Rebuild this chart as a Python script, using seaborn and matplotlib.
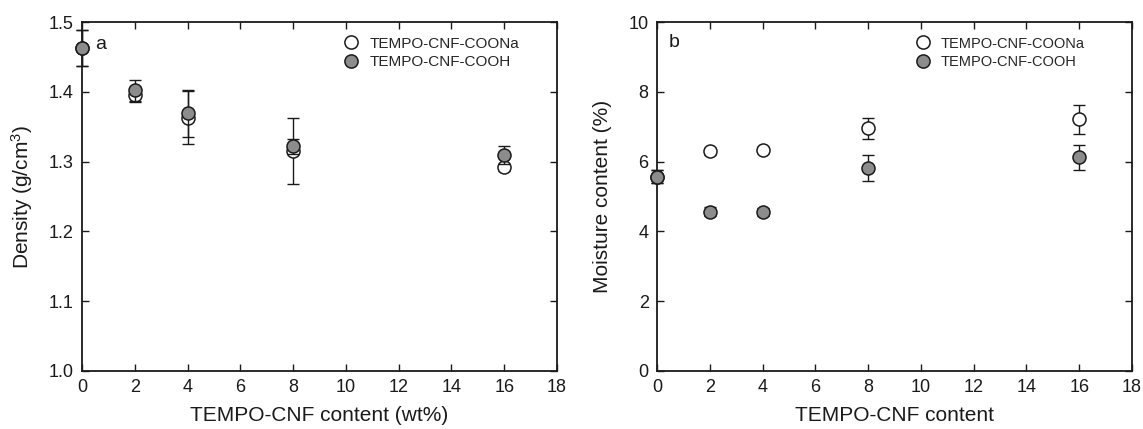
import matplotlib
matplotlib.use("Agg")
import matplotlib.pyplot as plt
import seaborn as sns
import pandas as pd
import numpy as np
from matplotlib.lines import Line2D

# ---- data ----
content = [0, 2, 4, 8, 16]
series_names = ["TEMPO-CNF-COONa", "TEMPO-CNF-COOH"]

density_coona = [1.463, 1.395, 1.363, 1.315, 1.292]
density_coona_err = [0.026, 0.010, 0.038, 0.047, 0.005]
density_cooh = [1.463, 1.402, 1.369, 1.322, 1.310]
density_cooh_err = [0.026, 0.015, 0.034, 0.011, 0.013]

moisture_coona = [5.57, 6.29, 6.33, 6.96, 7.21]
moisture_coona_err = [0.18, 0.10, 0.08, 0.30, 0.42]
moisture_cooh = [5.57, 4.57, 4.55, 5.82, 6.12]
moisture_cooh_err = [0.18, 0.12, 0.12, 0.38, 0.37]

x_ticks = [0, 2, 4, 6, 8, 10, 12, 14, 16, 18]
density_ticks = [1.0, 1.1, 1.2, 1.3, 1.4, 1.5]
moisture_ticks = [0, 2, 4, 6, 8, 10]

sns.set_theme(style="ticks")
plt.rcParams['font.family'] = ['Liberation Sans', 'DejaVu Sans']
plt.rcParams['mathtext.default'] = 'regular'

fig = plt.figure(figsize=(11.43, 4.29), dpi=100)
ax1 = fig.add_axes([0.0717, 0.1352, 0.4156, 0.8135])
ax2 = fig.add_axes([0.5748, 0.1352, 0.4156, 0.8135])

fills = {"TEMPO-CNF-COONa": "white", "TEMPO-CNF-COOH": "#8c8c8c"}

def draw(ax, vals_na, err_na, vals_h, err_h):
    df = pd.DataFrame({
        "x": content * 2,
        "y": list(vals_na) + list(vals_h),
        "err": list(err_na) + list(err_h),
        "series": [series_names[0]] * len(content) + [series_names[1]] * len(content),
    })
    for i, name in enumerate(series_names):
        sub = df[df.series == name]
        ax.errorbar(sub.x, sub.y, yerr=sub.err, fmt="none", ecolor="#1a1a1a",
                    elinewidth=1.0, capsize=4, capthick=1.0, zorder=2 + 2 * i)
        sns.scatterplot(data=sub, x="x", y="y", ax=ax, color=fills[name],
                        edgecolor="#1a1a1a", linewidth=1.1, s=88, zorder=3 + 2 * i,
                        legend=False)

draw(ax1, density_coona, density_coona_err, density_cooh, density_cooh_err)
draw(ax2, moisture_coona, moisture_coona_err, moisture_cooh, moisture_cooh_err)

ax1.set_xlim(0, 18)
ax1.set_ylim(1.0, 1.5)
ax1.set_yticks(density_ticks)
ax1.set_yticklabels([f"{t:.1f}" for t in density_ticks])
ax2.set_xlim(0, 18)
ax2.set_ylim(0, 10)
ax2.set_yticks(moisture_ticks)

for ax in (ax1, ax2):
    ax.set_xticks(x_ticks)
    ax.tick_params(direction="in", top=True, right=True, length=5, width=1.0,
                   labelsize=13, colors="#1a1a1a", pad=6)
    ax.tick_params(axis="x", pad=6)
    for s in ax.spines.values():
        s.set_linewidth(1.3)
        s.set_color("#1a1a1a")
        s.set_visible(True)
    for c in ax.collections:
        c.set_clip_on(False)
    for l in ax.lines:
        l.set_clip_on(False)

ax1.set_xlabel("TEMPO-CNF content (wt%)", fontsize=15, labelpad=7, color="#1a1a1a")
ax1.set_ylabel("Density (g/cm$^{3}$)", fontsize=15, labelpad=10, color="#1a1a1a")
ax2.set_xlabel("TEMPO-CNF content", fontsize=15, labelpad=7, color="#1a1a1a")
ax2.set_ylabel("Moisture content (%)", fontsize=15, labelpad=12, color="#1a1a1a")

ax1.text(0.5, 1.468, "a", fontsize=14, color="#1a1a1a", va="center", ha="left")
ax2.text(0.45, 9.4, "b", fontsize=14, color="#1a1a1a", va="center", ha="left")

def legend(ax, fs, anchor):
    handles = [Line2D([], [], marker="o", linestyle="none", markersize=9.5,
                      markerfacecolor=fills[n], markeredgecolor="#1a1a1a",
                      markeredgewidth=1.1, label=n) for n in series_names]
    ax.legend(handles=handles, loc="upper left", bbox_to_anchor=anchor, frameon=False,
              fontsize=fs, handletextpad=0.6, labelspacing=0.3, borderaxespad=0,
              handlelength=1.2)

legend(ax1, 11, (0.535, 0.975))
legend(ax2, 10.5, (0.53, 0.975))

fig.savefig("out.png", dpi=100, facecolor="white")
